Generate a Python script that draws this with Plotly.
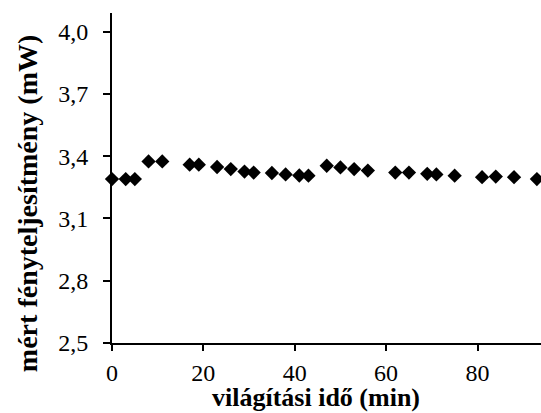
import plotly.graph_objects as go

time_min = [0, 3, 5, 8, 11, 17, 19, 23, 26, 29, 31, 35, 38, 41, 43, 47, 50, 53, 56, 62, 65, 69, 71, 75, 81, 84, 88, 93]
power_mw = [3.290, 3.290, 3.290, 3.375, 3.375, 3.359, 3.359, 3.348, 3.338, 3.326, 3.321, 3.319, 3.312, 3.307, 3.306,
            3.354, 3.346, 3.338, 3.331, 3.321, 3.321, 3.315, 3.312, 3.306, 3.299, 3.302, 3.299, 3.290]

y_ticks = [2.5, 2.8, 3.1, 3.4, 3.7, 4.0]
x_ticks = [0, 20, 40, 60, 80]
x_title = "<b>világítási idő (min)</b>"
y_title = "<b>mért fényteljesítmény (mW)</b>"

fig = go.Figure()
fig.add_trace(go.Scatter(
    x=time_min, y=power_mw, mode="markers",
    marker=dict(symbol="diamond", size=11, color="black"),
    cliponaxis=False,
))

font = "Liberation Serif"
fig.update_layout(
    width=541, height=413,
    margin=dict(l=112, r=0, t=13, b=70),
    plot_bgcolor="white", paper_bgcolor="white",
    separators=", ",
    showlegend=False,
    font=dict(family=font, size=24, color="black"),
)
fig.update_xaxes(
    range=[0, 93.9], tickvals=x_ticks, showgrid=False, zeroline=False,
    showline=True, linecolor="black", linewidth=2,
    ticks="outside", ticklen=6, tickwidth=2, tickcolor="black",
    tickfont=dict(family=font, size=24), ticklabelstandoff=1,
)
fig.update_yaxes(
    range=[2.5, 4.09], tickvals=y_ticks, tickformat=".1f", showgrid=False, zeroline=False,
    showline=True, linecolor="black", linewidth=2,
    ticks="outside", ticklen=7, tickwidth=2, tickcolor="black",
    tickfont=dict(family=font, size=24), ticklabelstandoff=10,
)
fig.add_annotation(text=x_title, xref="paper", yref="paper", x=0.4755, y=-0.165,
                   xanchor="center", yanchor="middle", showarrow=False,
                   font=dict(family=font, size=26, color="black"))
fig.add_annotation(text=y_title, xref="paper", yref="paper", x=-0.198, y=0.421,
                   xanchor="center", yanchor="middle", showarrow=False, textangle=-90,
                   font=dict(family=font, size=28, color="black"))
fig.write_html("out.html")
